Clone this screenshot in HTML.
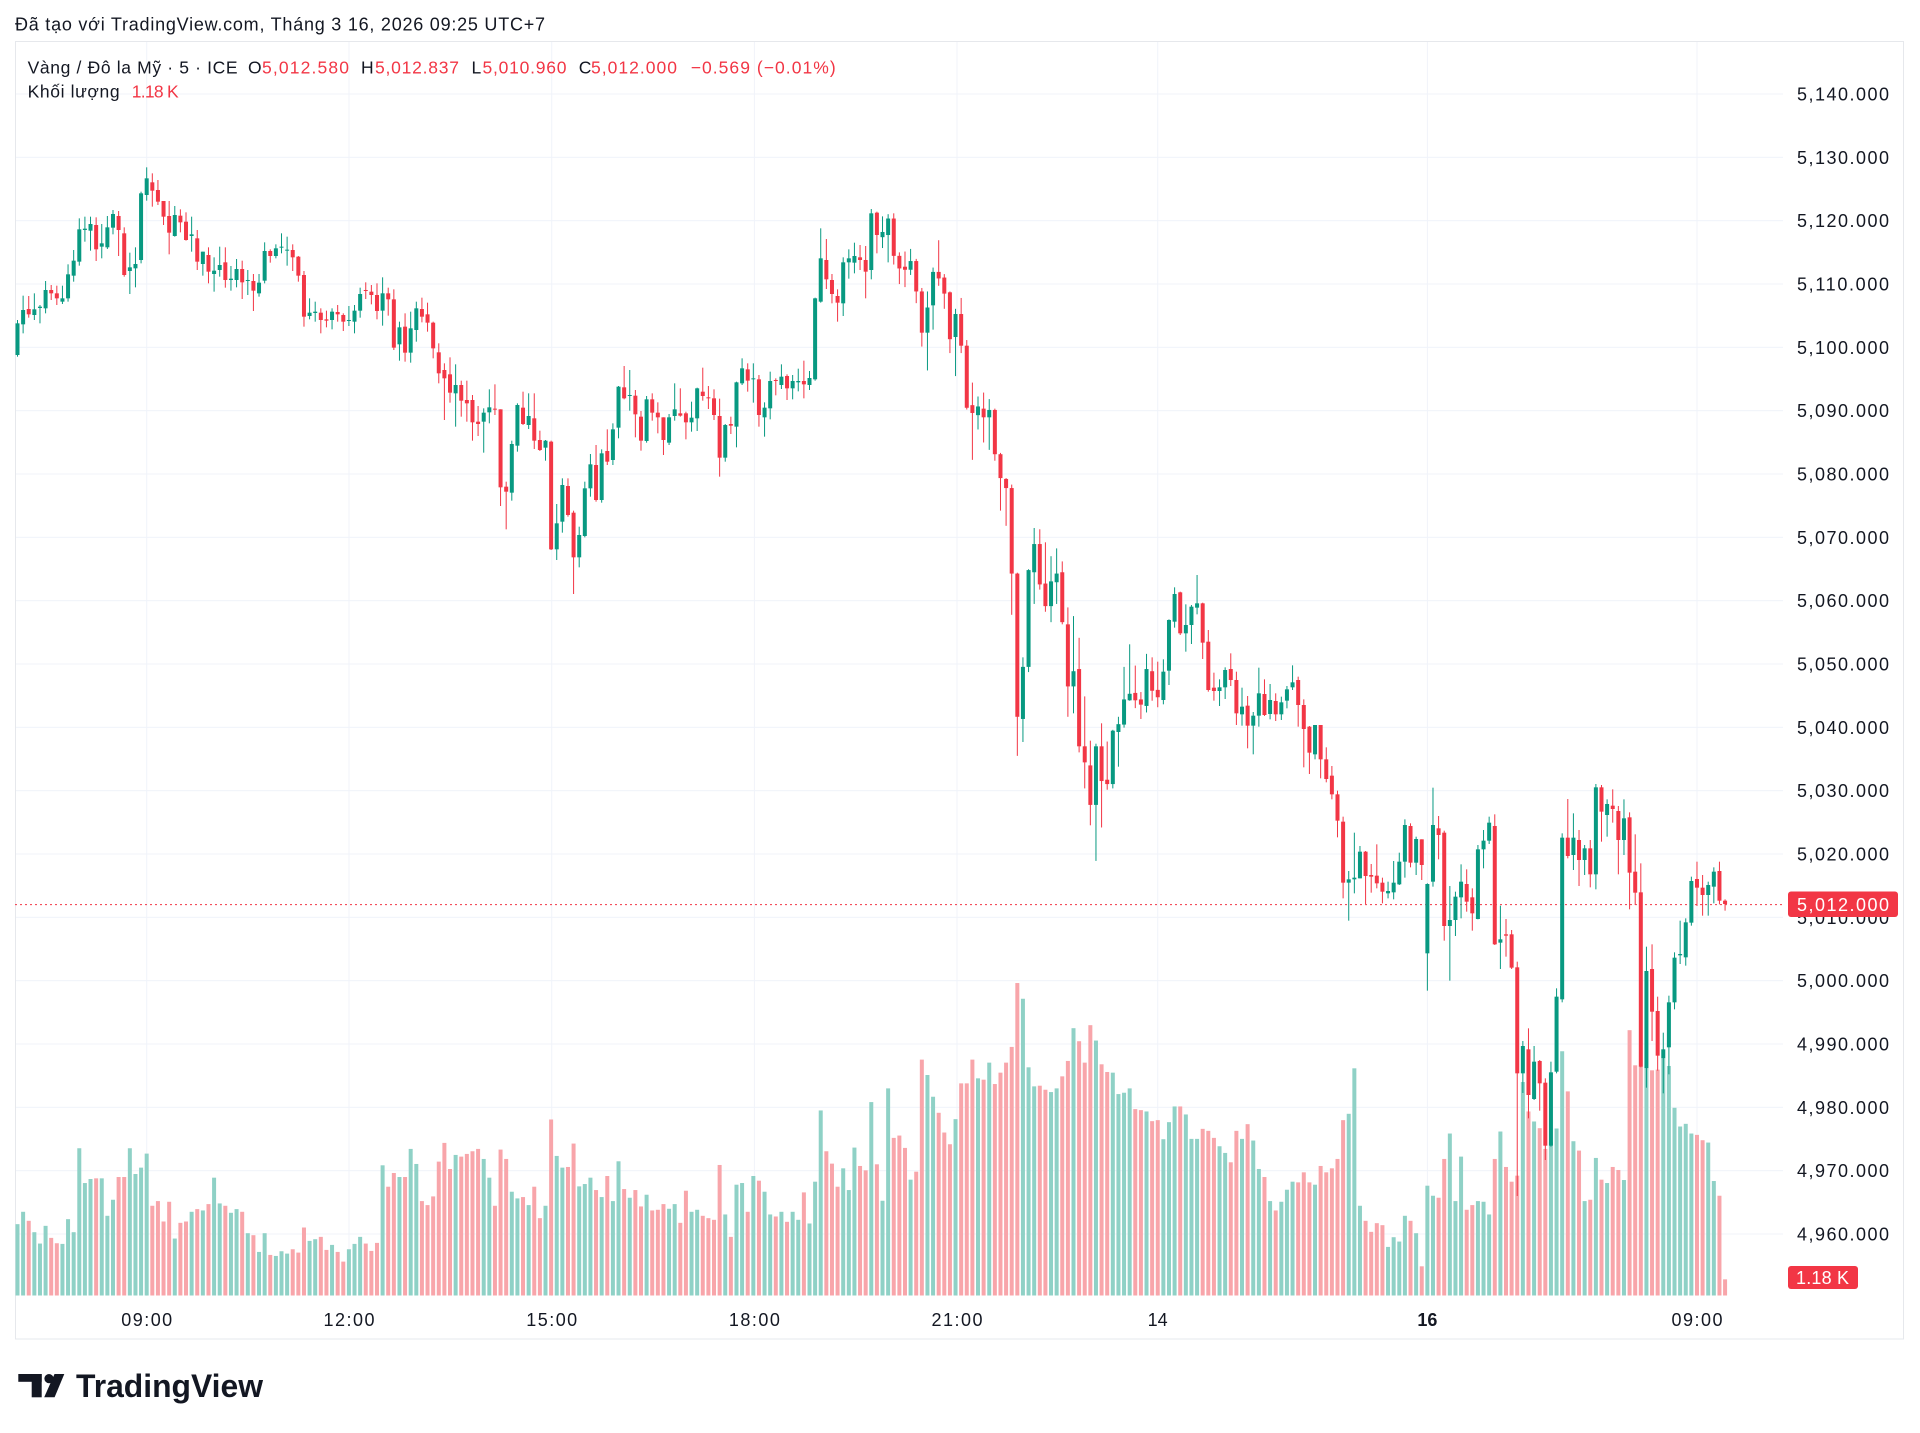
<!DOCTYPE html>
<html>
<head>
<meta charset="utf-8">
<style>
html,body{margin:0;padding:0;background:#ffffff;}
svg{display:block;}
text{font-family:"Liberation Sans","Noto Sans CJK SC",sans-serif;}
</style>
</head>
<body>
<svg id="chart" width="1920" height="1433" viewBox="0 0 1920 1433" xmlns="http://www.w3.org/2000/svg">
<rect x="0" y="0" width="1920" height="1433" fill="#ffffff"/>
<g id="grid"></g>
<rect x="15.5" y="41.5" width="1888" height="1297.5" fill="none" stroke="#e6e8ec" stroke-width="1"/>
<g id="vol"></g>
<line x1="15" y1="904.6" x2="1783" y2="904.6" stroke="#f23645" stroke-width="1" stroke-dasharray="2,3"/>
<g id="candles"></g>

<!-- header -->
<text x="15" y="30.7" font-size="18" fill="#131722" textLength="530" lengthAdjust="spacing">Đã tạo với TradingView.com, Tháng 3 16, 2026 09:25 UTC+7</text>
<g font-size="17.5">
<text x="27.6" y="73.3" fill="#131722" textLength="210" lengthAdjust="spacing">Vàng / Đô la Mỹ · 5 · ICE</text>
<text x="248" y="73.3" fill="#131722">O</text>
<text x="262" y="73.3" fill="#f23645" textLength="87" lengthAdjust="spacing">5,012.580</text>
<text x="361" y="73.3" fill="#131722">H</text>
<text x="375" y="73.3" fill="#f23645" textLength="84" lengthAdjust="spacing">5,012.837</text>
<text x="471.5" y="73.3" fill="#131722">L</text>
<text x="482.5" y="73.3" fill="#f23645" textLength="84" lengthAdjust="spacing">5,010.960</text>
<text x="578.7" y="73.3" fill="#131722">C</text>
<text x="591" y="73.3" fill="#f23645" textLength="86" lengthAdjust="spacing">5,012.000</text>
<text x="690.7" y="73.3" fill="#f23645" textLength="145" lengthAdjust="spacing">−0.569 (−0.01%)</text>
<text x="27.6" y="97.3" fill="#131722" textLength="92" lengthAdjust="spacing">Khối lượng</text>
<text x="131.7" y="97.3" fill="#f23645" textLength="47" lengthAdjust="spacing">1.18 K</text>
</g>

<!-- price axis -->
<g font-size="18" fill="#131722">
<text x="1797" y="100.5" textLength="92" lengthAdjust="spacing">5,140.000</text>
<text x="1797" y="163.8" textLength="92" lengthAdjust="spacing">5,130.000</text>
<text x="1797" y="227.2" textLength="92" lengthAdjust="spacing">5,120.000</text>
<text x="1797" y="290.5" textLength="92" lengthAdjust="spacing">5,110.000</text>
<text x="1797" y="353.8" textLength="92" lengthAdjust="spacing">5,100.000</text>
<text x="1797" y="417.2" textLength="92" lengthAdjust="spacing">5,090.000</text>
<text x="1797" y="480.5" textLength="92" lengthAdjust="spacing">5,080.000</text>
<text x="1797" y="543.8" textLength="92" lengthAdjust="spacing">5,070.000</text>
<text x="1797" y="607.1" textLength="92" lengthAdjust="spacing">5,060.000</text>
<text x="1797" y="670.5" textLength="92" lengthAdjust="spacing">5,050.000</text>
<text x="1797" y="733.8" textLength="92" lengthAdjust="spacing">5,040.000</text>
<text x="1797" y="797.1" textLength="92" lengthAdjust="spacing">5,030.000</text>
<text x="1797" y="860.5" textLength="92" lengthAdjust="spacing">5,020.000</text>
<text x="1797" y="923.8" textLength="92" lengthAdjust="spacing">5,010.000</text>
<text x="1797" y="987.1" textLength="92" lengthAdjust="spacing">5,000.000</text>
<text x="1797" y="1050.5" textLength="92" lengthAdjust="spacing">4,990.000</text>
<text x="1797" y="1113.8" textLength="92" lengthAdjust="spacing">4,980.000</text>
<text x="1797" y="1177.1" textLength="92" lengthAdjust="spacing">4,970.000</text>
<text x="1797" y="1240.5" textLength="92" lengthAdjust="spacing">4,960.000</text>
</g>
<rect x="1788" y="891.5" width="110" height="25.5" rx="3" fill="#f23645"/>
<text x="1797" y="911" font-size="18" fill="#ffffff" textLength="92" lengthAdjust="spacing">5,012.000</text>
<rect x="1788" y="1266" width="70" height="23" rx="3" fill="#f23645"/>
<text x="1796" y="1284" font-size="18" fill="#ffffff" textLength="53" lengthAdjust="spacing">1.18 K</text>

<!-- time axis -->
<g font-size="18" fill="#131722" text-anchor="middle">
<text x="146.7" y="1326" textLength="51" lengthAdjust="spacing">09:00</text>
<text x="349" y="1326" textLength="51" lengthAdjust="spacing">12:00</text>
<text x="551.7" y="1326" textLength="51" lengthAdjust="spacing">15:00</text>
<text x="754.4" y="1326" textLength="51" lengthAdjust="spacing">18:00</text>
<text x="957" y="1326" textLength="51" lengthAdjust="spacing">21:00</text>
<text x="1157.7" y="1326">14</text>
<text x="1427.4" y="1326" font-weight="bold">16</text>
<text x="1697" y="1326" textLength="51" lengthAdjust="spacing">09:00</text>
</g>

<!-- logo -->
<g fill="#131722">
<rect x="18.3" y="1374" width="23.4" height="7.8"/>
<rect x="31.7" y="1374" width="10" height="23.3"/>
<circle cx="49" cy="1378.6" r="4.6"/>
<polygon points="54.5,1374 64.3,1374 54.6,1397.3 44.2,1397.3"/>
<text x="76" y="1397" font-size="32" font-weight="bold" textLength="187" lengthAdjust="spacingAndGlyphs">TradingView</text>
</g>
</svg>
<script>
(function(){
var NS="http://www.w3.org/2000/svg";
function el(tag,attrs,parent){var e=document.createElementNS(NS,tag);for(var k in attrs)e.setAttribute(k,attrs[k]);parent.appendChild(e);return e;}
var grid=document.getElementById('grid');
for(var i=0;i<19;i++){var y=94+i*63.333;el('rect',{x:15,y:(y-0.5).toFixed(2),width:1768,height:1,fill:'#f0f3fa'},grid);}
var vx=[146.7,349,551.7,754.4,957,1157.7,1427.4,1697];
vx.forEach(function(x){el('rect',{x:(x-0.5).toFixed(2),y:42,width:1,height:1254,fill:'#f0f3fa'},grid);});

function X(k){return 17.5+5.617*k;}
var chunks=[
{k0:0,f:function(z){return 150+z/3;},d:[[1,520,615,510,620],[1,480,523,437,550],[0,477,493,438,503],[1,478,495,430,510],[1,470,474,465,520],[1,420,475,393,490],[0,420,430,405,450],[0,430,445,407,465],[1,445,455,407,462],[1,373,445,343,455],
[1,332,377,300,395],[1,238,335,205,347],[1,236,240,200,275],[1,222,242,200,302],[0,225,298,202,333],[1,280,290,222,325],[1,232,292,198,297],[1,192,233,180,253],[0,198,240,183,318],[0,250,375,232,380],
[1,352,363,308,432],[1,342,355,292,412],[1,130,330,125,340],[1,85,135,52,152],[0,97,122,70,170],[0,120,155,90,165],[0,153,200,153,225],[0,198,248,153,313],[1,195,258,168,260],[0,197,217,178,247],
[0,215,270,187,272],[1,253,258,200,305],[0,265,335,240,360],[1,305,342,305,377],[0,315,365,292,400],[1,362,372,322,425],[1,345,360,290,380],[0,337,390,292,413],[1,386,390,348,422],[1,357,390,327,412],
[0,357,397,332,447],[1,390,393,360,435],[0,393,422,372,483],[1,398,430,372,440],[1,303,392,277,400],[0,303,318,298,338],[1,295,318,283,325],[1,290,293,250,310],[1,299,301,260,347],[0,300,322,283,363],
[0,320,377,318,395],[0,375,500,363,530]]},
{k0:52,f:function(z){return 220+z/3;},d:[[1,278,288,235,298],[1,275,279,245,305],[0,278,300,265,340],[0,298,302,272,322],[1,275,300,265,328],[0,276,283,255,305],[0,285,305,280,333],[1,300,303,258,318],[1,272,305,255,340],[1,222,272,203,293],
[0,210,213,187,237],[0,215,225,195,253],[0,225,273,190,298],[1,220,272,172,317],[0,220,238,203,287],[0,238,383,208,390],[1,322,373,305,422],[0,320,398,280,425],[1,325,398,275,428],[1,265,330,245,365],
[0,267,290,233,307],[0,283,308,248,335],[0,308,385,305,415],[0,397,460,370,490],[0,450,475,430,600],[0,463,518,412,548],[1,495,520,433,620],[0,495,542,482,590],[0,540,550,482,605],[0,540,607,525,662],
[0,605,612,558,648],[1,578,605,565,698],[1,562,577,508,610],[0,566,569,493,585],[0,568,802,568,858],[0,800,815,785,928],[1,672,818,662,842],[1,555,677,550,695],[0,563,612,515,615],[1,588,615,520,627],
[0,595,662,520,687],[0,660,690,632,693],[1,662,683,660,722],[0,665,988,662,990],[1,910,988,852,1020],[1,795,905,775,938],[0,798,885,775,890],[0,878,1012,872,1122],[1,945,1012,920,1042],[1,805,948,785,952],
[1,733,805,702,830]]},
{k0:103,f:function(z){return 170+z/3;},d:[[0,885,990,825,995],[1,850,990,838,998],[0,843,875,778,885],[1,778,870,760,885],[1,650,773,648,805],[0,652,685,588,688],[1,675,678,600,722],[0,677,733,660,802],[0,740,812,723,842],[1,688,813,678,818],
[0,688,728,670,752],[0,728,742,697,790],[0,742,810,742,855],[1,742,818,732,825],[1,718,738,640,752],[0,730,737,655,740],[0,730,757,725,808],[1,743,757,695,785],[1,655,745,653,783],[0,665,678,593,692],
[0,682,685,648,717],[0,685,735,658,750],[0,738,863,686,920],[1,765,863,762,875],[0,762,767,740,792],[1,637,770,635,832],[1,595,640,565,645],[0,598,632,580,665],[1,625,628,580,698],[0,628,735,615,770],
[1,713,742,697,800],[1,633,715,605,748],[0,630,633,625,676],[1,620,645,583,657],[0,618,655,613,690],[1,633,655,615,688],[1,633,637,596,664],[0,633,643,572,685],[1,624,645,603,660],[1,385,628,383,632],
[1,265,395,175,398],[0,270,328,207,357],[0,330,372,312,400],[0,378,398,358,455],[1,277,400,262,438],[1,265,277,238,326],[1,258,278,218,310],[0,262,270,225,300],[0,270,305,228,385],[1,130,300,117,328],
[0,128,195,125,250]]},
{k0:154,f:function(z){return 220.7+(z-47)/2.304;},d:[[1,73,85,37,110],[1,42,80,32,143],[0,42,128,30,148],[0,128,157,120,193],[0,153,160,118,200],[1,140,160,112,172],[0,140,210,135,237],[0,210,305,202,337],[1,247,305,210,392],[1,165,242,155,298],
[0,165,180,92,197],[0,178,215,170,250],[0,212,320,210,352],[1,262,315,250,405],[0,262,335,225,352],[0,335,478,322,482],[0,472,490,420,598],[1,475,495,452,528],[0,480,500,443,558],[1,483,500,458,575],
[0,483,585,480,600],[0,585,640,582,715],[0,642,663,640,750],[0,663,860,655,955],[0,860,1190,858,1280],[1,1075,1195,1053,1248],[1,852,1075,850,1087],[1,792,857,755,930],[0,792,885,758,897],[0,883,935,788,948],
[1,878,935,820,972],[1,860,880,802,930],[0,857,972,832,977],[0,977,1120,938,1190],[1,1085,1120,958,1182],[0,1080,1258,1008,1272],[0,1258,1295,1143,1355],[0,1302,1393,1245,1440],[1,1258,1393,1252,1522],[0,1258,1338,1205,1445],
[0,1335,1345,1247,1358],[1,1222,1345,1220,1355],[1,1207,1225,1190,1305],[1,1150,1208,1075,1215],[1,1137,1152,1023,1153],[0,1135,1152,1072,1170],[0,1150,1162,1133,1195],[1,1080,1165,1045,1180],[0,1085,1130,1053,1153],[0,1128,1145,1063,1168]]},
{k0:204,f:function(z){return 560+z/3;},d:[[1,335,420,298,433],[1,180,332,178,375],[1,102,185,82,203],[0,97,220,95,225],[1,195,220,133,275],[1,140,195,135,252],[1,130,143,45,163],[0,130,248,128,297],[0,245,390,210,395],[0,383,393,338,422],
[1,382,393,358,438],[1,330,382,322,417],[0,327,360,280,378],[0,360,460,335,495],[1,440,463,383,497],[0,437,497,408,565],[1,467,497,456,583],[1,400,467,323,500],[0,402,465,358,468],[1,420,462,372,478],
[0,423,463,400,483],[1,427,463,410,480],[1,388,422,378,445],[1,367,382,316,390],[0,360,435,350,500],[0,435,507,418,622],[0,500,578,498,642],[1,495,583,495,598],[0,495,598,495,655],[0,598,657,562,667],
[0,647,703,618,718],[0,703,782,692,832],[0,785,968,770,1015],[1,958,968,933,1082],[1,953,958,818,1000],[1,875,955,858,955],[0,875,948,873,1032],[0,945,950,912,998],[0,947,970,853,985],[0,968,995,953,1030],
[1,993,1000,965,1015],[1,968,997,903,1018],[1,905,973,878,975],[1,795,905,778,953],[0,798,908,790,922],[1,837,908,830,945],[0,838,915,838,960],[1,972,1180,970,1292],[1,795,965,683,980],[0,805,825,768,898],
[0,818,1098,812,1142],[1,1080,1098,978,1262],[1,1010,1080,995,1128]]},
{k0:257,f:function(z){return 760+z/3;},d:[[1,365,412,313,475],[0,372,425,328,455],[0,412,460,385,512],[1,268,477,255,478],[1,242,268,210,325],[1,188,242,170,252],[0,198,553,163,555],[1,538,548,437,627],[0,523,527,477,590],[0,523,623,510,627],
[0,622,940,605,1308],[1,858,940,843,999],[0,868,1005,805,1075],[1,905,1017,858,1020],[0,903,970,900,1052],[0,968,1157,955,1200],[1,937,1157,905,1160],[1,710,935,685,940],[1,233,718,220,727],[0,233,288,117,295],
[1,233,285,160,330],[0,240,300,210,378],[1,265,300,255,345],[0,265,343,240,382],[1,82,343,72,388],[0,82,155,75,245],[1,132,165,118,230],[0,137,147,88,188],[0,153,240,138,343],[1,175,240,118,285],
[0,172,338,157,448],[0,335,398,223,435],[0,397,920,310,922],[1,633,925,560,983],[0,627,755,553,843],[0,753,887,710,932],[1,868,895,818,1000],[1,727,862,707,943],[1,593,727,577,748],[1,582,586,482,612],
[1,487,592,475,617],[1,363,488,350,497],[0,357,383,305,438],[0,383,405,345,467],[1,375,405,365,467],[1,335,380,322,430],[0,333,422,305,433],[0,422,432,418,452]]}
];
var vols=[745,708,735,769,803,750,786,802,804,730,
769,518,622,610,608,608,720,672,604,604,
518,595,576,534,690,676,737,678,788,741,
737,708,700,704,685,606,683,690,711,700,
708,772,778,828,772,837,840,826,833,820,
830,755,795,790,783,822,807,828,857,820,
804,783,803,825,801,569,633,592,604,604,
520,565,676,688,662,558,502,580,538,543,
535,527,520,550,606,690,522,550,648,668,
664,688,633,727,690,432,541,576,574,504,
632,625,606,
643,664,601,676,557,640,666,643,692,657,
704,702,685,699,685,741,645,708,702,720,
727,732,568,716,783,627,622,708,601,615,
648,716,722,708,738,708,732,650,743,618,
405,527,564,633,578,643,516,571,584,380,
566,675,339,487,480,517,612,588,253,299,
364,412,471,506,431,324,324,253,309,313,
262,326,292,262,215,24,71,276,333,331,
343,350,339,303,257,159,198,262,150,196,
267,290,292,356,352,339,401,404,408,437,
434,491,
440,393,393,417,490,490,460,466,487,512,
532,560,466,490,446,495,580,604,676,704,
678,642,618,620,590,620,627,571,590,578,
550,434,415,279,690,735,768,742,748,813,
784,797,720,735,772,871,630,660,666,550,
474,676,543,702,688,676,678,716,550,468,
574,618,600,320,408,438,458,520,500,459,
228,348,497,525,676,672,547,612,622,574,
583,613,165,270,273,280,285,283,250,272,
397,453,445,474,478,494,501,616,660,910];
var colors=[];
var candles=document.getElementById('candles');
chunks.forEach(function(c){
 c.d.forEach(function(r,i){
  var k=c.k0+i;colors[k]=r[0];
  var x=X(k);
  var col=r[0]?'#089981':'#f23645';
  var bt=c.f(r[1]),bb=c.f(r[2]),wt=c.f(r[3]),wb=c.f(r[4]);
  if(wt>bt)wt=bt; if(wb<bb)wb=bb;
  el('rect',{x:(x-0.5).toFixed(2),y:wt.toFixed(2),width:1,height:Math.max(1,wb-wt).toFixed(2),fill:col},candles);
  var h=Math.max(1,bb-bt);
  el('rect',{x:(x-2).toFixed(2),y:bt.toFixed(2),width:4,height:h.toFixed(2),fill:col},candles);
 });
});
var vol=document.getElementById('vol');
var base=1295.5;
vols.forEach(function(z,k){
  var top=975+z/2.99;
  var x=X(k);
  var col=colors[k]?'#8fd1c6':'#f8a5aa';
  el('rect',{x:(x-2).toFixed(2),y:top.toFixed(2),width:4,height:(base-top).toFixed(2),fill:col},vol);
});
})();
</script>
</body>
</html>
